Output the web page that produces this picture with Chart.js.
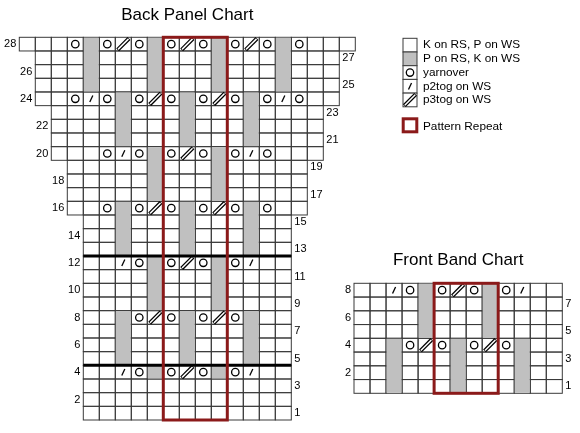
<!DOCTYPE html>
<html>
<head>
<meta charset="utf-8">
<script src="https://cdn.jsdelivr.net/npm/chart.js@4.4.0/dist/chart.umd.min.js"></script>
<style>
  html, body { margin: 0; padding: 0; background: #fff; }
  #wrap { position: relative; width: 580px; height: 433px; }
  #wrap canvas { position: absolute; left: 0; top: 0; }
</style>
</head>
<body>
<div id="wrap">
  <canvas id="back" width="580" height="433"></canvas>
  <canvas id="front" width="580" height="433"></canvas>
</div>
<script>
// rows are counted from the bottom (row 1), columns from the left edge of the widest row
// [first row, last row, first col, last col]
var backRows = [[1, 15, 4, 16], [16, 19, 3, 17], [20, 23, 2, 18], [24, 27, 1, 19], [28, 28, 0, 20]];
// purl cells (grey): [col, from row, to row]
var backPurl = [[8, 4, 4], [12, 4, 4], [6, 5, 8], [10, 5, 8], [14, 5, 8], [8, 9, 12], [12, 9, 12],
  [6, 13, 16], [10, 13, 16], [14, 13, 16], [8, 17, 20], [12, 17, 20], [6, 21, 24], [10, 21, 24],
  [14, 21, 24], [4, 25, 28], [8, 25, 28], [12, 25, 28], [16, 25, 28]];
// [row, col]
var backYarnover = [[4, 7], [4, 9], [4, 11], [4, 13], [8, 7], [8, 9], [8, 11], [8, 13],
  [12, 7], [12, 9], [12, 11], [12, 13], [16, 5], [16, 7], [16, 9], [16, 11], [16, 13], [16, 15],
  [20, 5], [20, 7], [20, 9], [20, 11], [20, 13], [20, 15],
  [24, 3], [24, 5], [24, 7], [24, 9], [24, 11], [24, 13], [24, 15], [24, 17],
  [28, 3], [28, 5], [28, 7], [28, 9], [28, 11], [28, 13], [28, 15], [28, 17]];
var backP2tog = [[4, 6], [4, 14], [12, 6], [12, 14], [20, 6], [20, 14], [24, 4], [24, 16]];
var backP3tog = [[4, 10], [8, 8], [8, 12], [12, 10], [16, 8], [16, 12], [20, 10], [24, 8], [24, 12],
  [28, 6], [28, 10], [28, 14]];
var backRepeat = [9, 12];
var backRules = [4, 12];

var frontRows = [[1, 8, 0, 12]];
var frontPurl = [[4, 5, 8], [8, 5, 8], [2, 1, 4], [6, 1, 4], [10, 1, 4]];
var frontYarnover = [[8, 3], [8, 5], [8, 7], [8, 9], [4, 3], [4, 5], [4, 7], [4, 9]];
var frontP2tog = [[8, 2], [8, 10]];
var frontP3tog = [[8, 6], [4, 4], [4, 8]];
var frontRepeat = [5, 8];

var keyLabels = ['K on RS, P on WS', 'P on RS, K on WS', 'yarnover', 'p2tog on WS', 'p3tog on WS'];
var repeatLabel = 'Pattern Repeat';

var FONT = "'Liberation Sans', Arial, sans-serif";
var GREY = '#c0c0c0';
var RED = '#8b1a1a';
var LINE = '#3a3a3a';

var yoStyle = { pointStyle: 'circle', radius: 3.7, rotation: 0, borderWidth: 1.3 };
var p2Style = { pointStyle: 'line', radius: 3.6, rotation: -65, borderWidth: 1.3 };
var p3Style = { pointStyle: 'line', radius: 8, rotation: -45, borderWidth: 4 };
var p3Inner = { pointStyle: 'line', radius: 7.4, rotation: -45, borderWidth: 1.5 };

function pts(list) {
  return list.map(function (p) { return { x: p[1] + 0.5, y: p[0] - 0.5 }; });
}

function symbolSets(yo, p2, p3) {
  return [
    { label: 'p3tog inner', data: pts(p3), order: 0, pointStyle: 'line', pointRadius: p3Inner.radius,
      pointRotation: p3Inner.rotation, pointBorderWidth: p3Inner.borderWidth, pointBorderColor: '#fff', clip: false },
    { label: 'p3tog', data: pts(p3), order: 1, pointStyle: 'line', pointRadius: p3Style.radius,
      pointRotation: p3Style.rotation, pointBorderWidth: p3Style.borderWidth, pointBorderColor: '#000', clip: false },
    { label: 'p2tog', data: pts(p2), order: 2, pointStyle: 'line', pointRadius: p2Style.radius,
      pointRotation: p2Style.rotation, pointBorderWidth: p2Style.borderWidth, pointBorderColor: '#000', clip: false },
    { label: 'yarnover', data: pts(yo), order: 3, pointStyle: 'circle', pointRadius: yoStyle.radius,
      pointBorderWidth: yoStyle.borderWidth, pointBorderColor: '#000', pointBackgroundColor: '#fff', clip: false }
  ];
}

var knitPlugin = {
  id: 'knit',
  beforeDatasetsDraw: function (chart, args, o) {
    var ctx = chart.ctx, xs = chart.scales.x, ys = chart.scales.y;
    ctx.save();
    ctx.strokeStyle = LINE;
    ctx.lineWidth = 1;
    o.rows.forEach(function (s) {
      for (var r = s[0]; r <= s[1]; r++) {
        for (var c = s[2]; c <= s[3]; c++) {
          var x0 = xs.getPixelForValue(c), x1 = xs.getPixelForValue(c + 1);
          var y0 = ys.getPixelForValue(r), y1 = ys.getPixelForValue(r - 1);
          ctx.strokeRect(x0, y0, x1 - x0, y1 - y0);
        }
      }
    });
    ctx.fillStyle = GREY;
    o.purl.forEach(function (g) {
      var x0 = xs.getPixelForValue(g[0]), x1 = xs.getPixelForValue(g[0] + 1);
      var y0 = ys.getPixelForValue(g[2]), y1 = ys.getPixelForValue(g[1] - 1);
      ctx.fillRect(x0 + 0.5, y0 + 0.5, x1 - x0 - 1, y1 - y0 - 1);
    });
    ctx.restore();
  },
  afterDatasetsDraw: function (chart, args, o) {
    var ctx = chart.ctx, xs = chart.scales.x, ys = chart.scales.y;
    ctx.save();
    // heavy rules
    ctx.strokeStyle = '#000';
    ctx.lineWidth = 3;
    (o.rules || []).forEach(function (r) {
      var span = o.rows.filter(function (s) { return r >= s[0] && r <= s[1]; })[0];
      ctx.beginPath();
      ctx.moveTo(xs.getPixelForValue(span[2]), ys.getPixelForValue(r));
      ctx.lineTo(xs.getPixelForValue(span[3] + 1), ys.getPixelForValue(r));
      ctx.stroke();
    });
    // repeat box
    ctx.strokeStyle = RED;
    ctx.lineWidth = 3;
    var top = o.rows[o.rows.length - 1][1];
    var bx0 = xs.getPixelForValue(o.repeat[0]), bx1 = xs.getPixelForValue(o.repeat[1] + 1);
    var by0 = ys.getPixelForValue(top), by1 = ys.getPixelForValue(0);
    ctx.strokeRect(bx0, by0, bx1 - bx0, by1 - by0);
    // row numbers: even on the left, odd on the right
    ctx.fillStyle = '#000';
    ctx.font = '11px ' + FONT;
    ctx.textBaseline = 'middle';
    o.rows.forEach(function (s) {
      for (var r = s[0]; r <= s[1]; r++) {
        var y = ys.getPixelForValue(r - 0.5);
        if (r % 2 === 0) {
          ctx.textAlign = 'right';
          ctx.fillText(String(r), xs.getPixelForValue(s[2]) - 3, y);
        } else {
          ctx.textAlign = 'left';
          ctx.fillText(String(r), xs.getPixelForValue(s[3] + 1) + 3, y);
        }
      }
    });
    ctx.restore();
  }
};

function drawSymbol(ctx, style, x, y, color) {
  ctx.strokeStyle = color;
  ctx.fillStyle = '#fff';
  ctx.lineWidth = style.borderWidth;
  Chart.helpers.drawPoint(ctx, style, x, y);
}

var keyPlugin = {
  id: 'key',
  afterDraw: function (chart) {
    var ctx = chart.ctx;
    var left = 403, w = 14, h = 13.7, top0 = 38.3;
    ctx.save();
    ctx.font = '11.8px ' + FONT;
    ctx.textBaseline = 'middle';
    ctx.textAlign = 'left';
    keyLabels.forEach(function (lab, i) {
      var t = top0 + i * h, cy = t + h / 2, cx = left + w / 2;
      ctx.fillStyle = i === 1 ? GREY : '#fff';
      ctx.fillRect(left, t, w, h);
      ctx.strokeStyle = LINE;
      ctx.lineWidth = 1;
      ctx.strokeRect(left, t, w, h);
      if (i === 2) drawSymbol(ctx, yoStyle, cx, cy, '#000');
      if (i === 3) drawSymbol(ctx, p2Style, cx, cy, '#000');
      if (i === 4) {
        drawSymbol(ctx, p3Style, cx, cy, '#000');
        drawSymbol(ctx, p3Inner, cx, cy, '#fff');
      }
      ctx.fillStyle = '#000';
      ctx.fillText(lab, 423, cy);
    });
    ctx.strokeStyle = RED;
    ctx.lineWidth = 3;
    ctx.strokeRect(403.2, 118.8, 13.6, 13);
    ctx.fillStyle = '#000';
    ctx.fillText(repeatLabel, 423, 126.5);
    ctx.restore();
  }
};

Chart.defaults.color = '#000';

function panel(id, title, cols, rows, pad, titlePad, data) {
  return new Chart(document.getElementById(id), {
    type: 'scatter',
    data: { datasets: symbolSets(data.yo, data.p2, data.p3) },
    options: {
      responsive: false,
      animation: false,
      events: [],
      layout: { padding: pad },
      scales: {
        x: { type: 'linear', min: 0, max: cols, display: false },
        y: { type: 'linear', min: 0, max: rows, display: false }
      },
      plugins: {
        legend: { display: false },
        tooltip: { enabled: false },
        title: { display: true, text: title, fullSize: false, color: '#000',
          font: { family: FONT, size: 17, weight: 'normal' }, padding: titlePad },
        knit: { rows: data.rows, purl: data.purl, repeat: data.repeat, rules: data.rules }
      }
    },
    plugins: data.extra ? [knitPlugin, data.extra] : [knitPlugin]
  });
}

panel('back', 'Back Panel Chart', 21, 28,
  { left: 19.3, right: 224.7, top: 0, bottom: 13 }, { top: 4.8, bottom: 12.1 },
  { rows: backRows, purl: backPurl, yo: backYarnover, p2: backP2tog, p3: backP3tog,
    repeat: backRepeat, rules: backRules, extra: keyPlugin });

panel('front', 'Front Band Chart', 13, 8,
  { left: 354, right: 17.7, top: 245, bottom: 39.7 }, { top: 4.8, bottom: 13.1 },
  { rows: frontRows, purl: frontPurl, yo: frontYarnover, p2: frontP2tog, p3: frontP3tog,
    repeat: frontRepeat, rules: [] });
</script>
</body>
</html>
